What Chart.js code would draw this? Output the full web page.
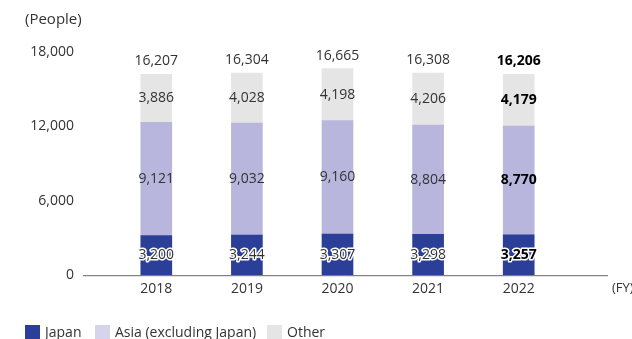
<!DOCTYPE html>
<html>
<head>
<meta charset="utf-8">
<script src="https://cdn.jsdelivr.net/npm/chart.js@4"></script>
<style>
  body{ margin:0; background:#fff; }
  #wrap{ position:relative; width:632px; height:339px; overflow:hidden; }
  #legend{ position:absolute; left:25px; top:322px; font:14px "Open Sans", sans-serif; color:#333; }
  #legend span.item{ position:absolute; white-space:nowrap; }
  #legend i{ display:inline-block; width:15px; height:14px; vertical-align:-2px; margin-right:5px; }
</style>
</head>
<body>
<div id="wrap">
  <canvas id="grafico" width="632" height="339"></canvas>
  <div id="legend"></div>
</div>
<script>

const anos = ["2018", "2019", "2020", "2021", "2022"];

const japao = [3200, 3244, 3307, 3298, 3257];
const asia = [9121, 9032, 9160, 8804, 8770];
const outros = [3886, 4028, 4198, 4206, 4179];
const totais = [16207, 16304, 16665, 16308, 16206];

const nomes = ["Japan", "Asia (excluding Japan)", "Other"];
const cores = ["#2b3f98", "#b8b6dc", "#e5e5e5"];
const coresLegenda = ["#2b3f98", "#d6d4ed", "#e5e5e5"];

const ticksY = [0, 6000, 12000, 18000];

const fonte = '"Open Sans", sans-serif';

function fmt(v){
  return v.toLocaleString("en-US");
}

// rótulos dentro das barras e total em cima
const rotulos = {
  id:'rotulos',
  afterDatasetsDraw(chart){
    const ctx = chart.ctx;
    ctx.save();
    ctx.textAlign = 'center';
    ctx.textBaseline = 'middle';

    chart.data.datasets.forEach((ds, d) => {
      const meta = chart.getDatasetMeta(d);
      meta.data.forEach((bar, i) => {
        const bold = i === anos.length - 1;
        ctx.font = (bold ? 'bold ' : '') + '14px ' + fonte;
        const y = (bar.y + bar.base) / 2;
        const txt = fmt(ds.data[i]);
        if(d === 0){
          ctx.lineWidth = 3;
          ctx.strokeStyle = '#fff';
          ctx.lineJoin = 'round';
          ctx.strokeText(txt, bar.x, y);
        }
        ctx.fillStyle = bold ? '#000' : '#333';
        ctx.fillText(txt, bar.x, y);
      });
    });

    // totais
    const topo = chart.getDatasetMeta(2);
    topo.data.forEach((bar, i) => {
      const bold = i === anos.length - 1;
      ctx.font = (bold ? 'bold ' : '') + '14px ' + fonte;
      ctx.fillStyle = bold ? '#000' : '#333';
      ctx.fillText(fmt(totais[i]), bar.x, bar.y - 13);
    });

    // linha de base
    const y0 = chart.scales.y.getPixelForValue(0);
    ctx.strokeStyle = '#666';
    ctx.lineWidth = 1;
    ctx.beginPath();
    ctx.moveTo(83, y0 + 0.5);
    ctx.lineTo(608, y0 + 0.5);
    ctx.stroke();

    // textos das unidades
    ctx.font = '15px ' + fonte;
    ctx.fillStyle = '#333';
    ctx.textAlign = 'left';
    ctx.fillText('(People)', 25, 20);
    ctx.font = '13px ' + fonte;
    ctx.fillText('(FY)', 612, 288);

    ctx.restore();
  }
};

const ctx = document.getElementById("grafico");

new Chart(ctx, {
  type:'bar',
  data:{
    labels:anos,
    datasets:nomes.map((n, k) => ({
      label:n,
      data:[japao, asia, outros][k],
      backgroundColor:cores[k],
      barThickness:31,
      borderWidth:0
    }))
  },
  options:{
    responsive:false,
    animation:false,
    layout:{
      padding:{ top:52, bottom:45, right:68, left:0 }
    },
    plugins:{
      legend:{ display:false },
      tooltip:{ enabled:false }
    },
    scales:{
      x:{
        stacked:true,
        grid:{ display:false },
        border:{ display:false },
        ticks:{ color:'#333', font:{ family:fonte, size:14 }, padding:-3 }
      },
      y:{
        stacked:true,
        min:0,
        max:18000,
        afterBuildTicks(scale){
          scale.ticks = ticksY.map(v => ({ value:v }));
        },
        afterFit(scale){
          scale.width = 111;
        },
        grid:{ display:false },
        border:{ display:false },
        ticks:{
          color:'#333',
          font:{ family:fonte, size:14 },
          padding:29,
          callback:v => fmt(v)
        }
      }
    }
  },
  plugins:[rotulos]
});

// legenda
const legenda = document.getElementById("legend");
const posLeg = [0, 70, 242];
nomes.forEach((n, k) => {
  const s = document.createElement("span");
  s.className = "item";
  s.style.left = posLeg[k] + "px";
  s.innerHTML = `<i style="background:${coresLegenda[k]}"></i>${n}`;
  legenda.appendChild(s);
});

</script>
</body>
</html>
